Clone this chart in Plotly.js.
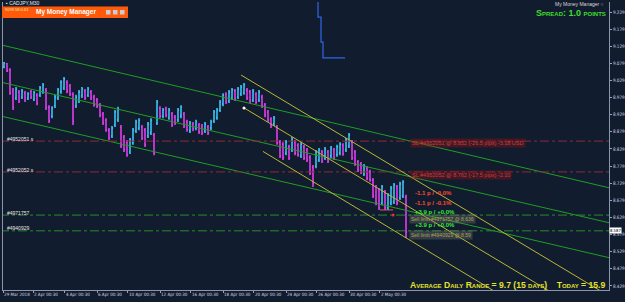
<!DOCTYPE html>
<html><head><meta charset="utf-8">
<script src="https://cdn.plot.ly/plotly-3.0.1.min.js"></script>
<style>html,body{margin:0;padding:0;background:#121c2f;overflow:hidden}#chart{width:625px;height:302px}</style>
</head><body><div id="chart"></div>
<script>
// CADJPY M30 bars (price values)
const openP = [9.068,9.078,9.060,9.000,8.978,8.995,8.980,8.992,8.977,8.996,
8.974,8.987,8.986,8.996,9.001,8.951,8.925,8.955,8.978,8.996,
9.007,9.024,9.013,8.989,8.955,8.969,8.984,8.998,8.986,8.995,
8.981,8.972,8.957,8.931,8.913,8.884,8.867,8.899,8.914,8.893,
8.864,8.849,8.820,8.847,8.882,8.890,8.893,8.884,8.867,8.876,
8.870,8.905,8.948,8.925,8.946,8.920,8.931,8.922,8.914,8.925,
8.931,8.908,8.882,8.902,8.890,8.899,8.896,8.882,8.893,8.890,
8.911,8.920,8.943,8.960,8.989,8.969,8.978,8.998,8.981,8.990,
8.993,9.001,8.995,8.972,8.989,8.972,8.981,8.957,8.937,8.916,
8.902,8.893,8.849,8.843,8.817,8.835,8.826,8.849,8.840,8.809,
8.835,8.826,8.805,8.776,8.779,8.797,8.820,8.803,8.820,8.809,
8.826,8.812,8.817,8.840,8.826,8.838,8.849,8.820,8.791,8.785,
8.756,8.773,8.762,8.738,8.718,8.709,8.671,8.703,8.657,8.671,
8.674,8.718,8.686,8.692,8.689];
const highP = [9.083,9.080,9.065,9.007,9.010,9.001,9.004,8.998,8.995,9.001,
8.998,8.992,9.013,9.022,9.007,8.957,8.954,8.987,9.007,9.030,
9.039,9.030,9.019,8.995,8.987,9.001,9.010,9.004,9.010,9.001,
8.987,8.978,8.963,8.937,8.919,8.890,8.896,8.943,8.952,8.899,
8.870,8.855,8.861,8.890,8.914,8.919,8.899,8.890,8.908,8.919,
8.876,8.972,8.954,8.949,8.952,8.949,8.937,8.928,8.949,8.957,
8.937,8.914,8.911,8.908,8.914,8.905,8.902,8.908,8.899,8.914,
8.943,8.949,8.972,8.992,8.995,9.001,9.007,9.004,9.010,9.016,
9.022,9.007,9.001,9.004,8.995,9.001,8.987,8.963,8.943,8.922,
8.925,8.899,8.855,8.849,8.855,8.841,8.864,8.855,8.846,8.849,
8.841,8.832,8.811,8.782,8.826,8.832,8.826,8.835,8.826,8.838,
8.832,8.841,8.849,8.846,8.861,8.876,8.855,8.826,8.797,8.791,
8.785,8.779,8.768,8.744,8.724,8.715,8.724,8.709,8.700,8.721,
8.730,8.724,8.733,8.738,8.695];
const lowP = [9.065,9.054,8.987,8.943,8.972,8.963,8.975,8.966,8.972,8.975,
8.969,8.957,8.981,8.990,8.943,8.905,8.919,8.949,8.972,8.990,
9.001,8.992,8.984,8.899,8.949,8.963,8.978,8.972,8.981,8.972,
8.952,8.949,8.922,8.899,8.879,8.855,8.861,8.893,8.908,8.832,
8.820,8.806,8.814,8.841,8.876,8.884,8.855,8.835,8.861,8.870,
8.811,8.899,8.919,8.919,8.922,8.914,8.893,8.899,8.908,8.919,
8.890,8.879,8.876,8.881,8.884,8.873,8.870,8.876,8.870,8.884,
8.905,8.914,8.937,8.954,8.960,8.963,8.972,8.969,8.975,8.984,
8.987,8.972,8.963,8.966,8.960,8.966,8.949,8.922,8.908,8.890,
8.896,8.841,8.803,8.797,8.811,8.797,8.820,8.811,8.806,8.803,
8.797,8.791,8.753,8.718,8.773,8.791,8.788,8.797,8.788,8.803,
8.797,8.806,8.811,8.809,8.820,8.832,8.797,8.779,8.762,8.756,
8.750,8.738,8.733,8.686,8.665,8.651,8.665,8.651,8.651,8.665,
8.668,8.665,8.680,8.686,8.569];
const closeP = [9.080,9.057,8.992,8.950,9.004,8.969,8.998,8.972,8.990,8.980,
8.993,8.962,9.008,9.016,8.950,8.911,8.948,8.981,9.001,9.024,
9.033,8.998,8.990,8.910,8.981,8.995,9.004,8.978,9.004,8.978,
8.958,8.955,8.928,8.905,8.885,8.861,8.890,8.937,8.946,8.838,
8.826,8.812,8.855,8.884,8.908,8.913,8.861,8.841,8.902,8.913,
8.817,8.966,8.925,8.943,8.928,8.943,8.899,8.905,8.943,8.951,
8.896,8.885,8.905,8.887,8.908,8.879,8.876,8.902,8.876,8.908,
8.937,8.943,8.966,8.986,8.966,8.995,9.001,8.975,9.004,9.010,
9.016,8.978,8.969,8.998,8.966,8.995,8.955,8.928,8.914,8.896,
8.919,8.847,8.809,8.803,8.849,8.803,8.858,8.817,8.812,8.843,
8.803,8.797,8.759,8.730,8.820,8.826,8.794,8.829,8.794,8.832,
8.803,8.835,8.843,8.815,8.855,8.870,8.803,8.785,8.768,8.762,
8.779,8.744,8.739,8.692,8.671,8.657,8.718,8.657,8.694,8.715,
8.724,8.671,8.727,8.733,8.587];

const tickLabels = ['29 Mar 2018','2 Apr 00:30','4 Apr 00:30','6 Apr 00:30','10 Apr 00:30','12 Apr 00:30','16 Apr 00:30','18 Apr 00:30','20 Apr 00:30','24 Apr 00:30','26 Apr 00:30','30 Apr 00:30','2 May 00:30'];
const tickBars = [-0.3, 9.67, 20.33, 31, 41.33, 52, 62.33, 73, 83.33, 94, 104.33, 115, 125.33];

// green regression channel
const channelX = [-1, 202];
const channelTop = [9.133, 8.715];
const channelMid = [9.024, 8.613];
const channelLow = [8.925, 8.511];
// yellow channel
const yUpX = [79, 202], yUp = [9.045, 8.398];
const yMidX = [80, 186.7], yMid = [8.949, 8.388];
const yLowX = [86.3, 168.3], yLow = [8.822, 8.388];
// order levels
const slLevels = [8.852, 8.762];
const limitLevels = [8.636, 8.590];
const lastPrice = 8.587;
// blue step line at top
const blueX = [104.67,104.67,105.67,105.67,106.33,106.33,113.67];
const blueY = [9.27,9.214,9.214,9.141,9.141,9.095,9.095];
// stop marker near last bars
const stopX = [125.3, 129.7], stopY = [8.651, 8.651];

const xs = openP.map((_, i) => i);
const X0 = -0.333, X1 = 201.667;
const BG = '#121c2f';

function line(x, y, color, dash, w) {
  return {type:'scatter', mode:'lines', x:x, y:y, hoverinfo:'skip', showlegend:false,
          line:{color:color, width:w||1, dash:dash||'solid'}};
}
const traces = [];
traces.push(line(channelX, channelTop, '#1f9e24'));
traces.push(line(channelX, channelMid, '#1f9e24'));
traces.push(line(channelX, channelLow, '#1f9e24'));
slLevels.forEach(v => traces.push(line([X0-1, X1+1], [v, v], '#8e2b35', 'dashdot')));
limitLevels.forEach(v => traces.push(line([X0-1, X1+1], [v, v], '#2a8a2e', 'dashdot')));
traces.push(line(yUpX, yUp, '#b8b834'));
traces.push(line(yMidX, yMid, '#b8b834'));
traces.push(line(yLowX, yLow, '#b8b834'));
traces.push(line(blueX, blueY, '#2f66e6', 'solid', 1.2));
traces.push(line(stopX, stopY, '#e05a6a'));
traces.push({type:'scatter', mode:'markers', x:[yMidX[0]], y:[yMid[0]], marker:{color:'#ffffff', size:3}, hoverinfo:'skip', showlegend:false});
traces.push({type:'scatter', mode:'markers', x:[stopX[1]], y:[limitLevels[0]], marker:{color:'#e03030', size:3}, hoverinfo:'skip', showlegend:false});
traces.push({type:'ohlc', x:xs, open:openP, high:highP, low:lowP, close:closeP,
  increasing:{line:{color:'#3cc3f5', width:1.6}}, decreasing:{line:{color:'#e23cf0', width:1.6}},
  tickwidth:0.35, hoverinfo:'skip', showlegend:false});

// pixel helpers for text placement only
const L = 3, R = 609, T = 2, B = 290;
const P = px => (px - L) / (R - L);
const Q = py => (B - py) / (B - T);
const FF = 'Liberation Sans, Arial, sans-serif';
const FN = 'Liberation Sans Narrow, DejaVu Sans Condensed, Liberation Sans, sans-serif';
function txt(px, py, text, size, color, anchor, extra) {
  return Object.assign({xref:'paper', yref:'paper', x:P(px), y:Q(py), text:text, showarrow:false,
    xanchor:anchor||'left', yanchor:'middle', font:{family:FF, size:size, color:color}}, extra||{});
}
const nb = '\u00a0';
const annotations = [
  txt(4, 3, '\u25aa CADJPY,M30', 5, '#e8e8e8'),
  txt(66, 12, '<b>My Money Manager</b>', 6.5, '#ffffff', 'center'),
  txt(3, 9.5, '9098 58 0.61', 4, '#ffe8b0'),
  txt(606, 4, 'My Money Manager \u25cb', 5, '#d6d6d6', 'right'),
  txt(608, 12.5, '<b>Spread: 1.0 points</b>', 9, '#3ddf2a', 'right', {font:{family:FF, size:9, color:'#3ddf2a', variant:'small-caps'}}),
  txt(607, 285, '<b>Average Daily Range = 9.7 (15 days)' + nb+nb+nb+nb + 'Today = 15.9</b>', 8.6, '#e3e32c', 'right', {font:{family:FF, size:8.6, color:'#e3e32c', variant:'small-caps'}}),
  txt(5, 139, '#4952051 s', 5, '#e6e6e6'),
  txt(5, 169.5, '#4952052 s', 5, '#e6e6e6'),
  txt(5, 212.5, '#4971757', 5, '#e6e6e6'),
  txt(5, 227.5, '#4940929', 5, '#e6e6e6'),
  txt(410, 143, 'SL #4952051 @ 8.852 (-26.5 pips) -3.18 USD', 5.5, '#d33a3a', 'left', {bgcolor:'rgba(150,20,20,0.35)'}),
  txt(410, 175, 'SL #4952052 @ 8.762 (-17.5 pips) -2.10', 5.5, '#d33a3a', 'left', {bgcolor:'rgba(150,20,20,0.35)'}),
  txt(413, 193, '<b>-1.1 p / -0.0%</b>', 6, '#ff4a2a'),
  txt(413, 203, '<b>-1.1 p / -0.1%</b>', 6, '#ff4a2a'),
  txt(413, 212, '<b>+3.9 p / +0.0%</b>', 6, '#38e838'),
  txt(409, 218.5, 'Sell limit #4971757 @ 8.636', 5, '#a8a84a', 'left', {bgcolor:'rgba(120,120,120,0.35)'}),
  txt(413, 225, '<b>+3.9 p / +0.0%</b>', 6, '#38e838'),
  txt(409, 235, 'Sell limit #4940929 @ 8.59', 5, '#a8a84a', 'left', {bgcolor:'rgba(120,120,120,0.35)'}),
  {xref:'paper', yref:'y', x:1, y:lastPrice, yshift:1.5, text:lastPrice.toFixed(3), showarrow:false, xanchor:'left', yanchor:'middle',
   bgcolor:'#ffffff', borderpad:0, font:{family:FN, size:4.2, color:'#000000'}}
];

const shapes = [
  {type:'rect', xref:'paper', yref:'paper', x0:P(2), x1:P(128), y0:Q(18), y1:Q(6.5), fillcolor:'#ff5a0a', line:{width:0}},
  {type:'rect', xref:'paper', yref:'paper', x0:P(106), x1:P(110.5), y0:Q(14.5), y1:Q(10), fillcolor:'#c9ccd6', line:{width:0}},
  {type:'rect', xref:'paper', yref:'paper', x0:P(113), x1:P(117.5), y0:Q(14.5), y1:Q(10), fillcolor:'#c9ccd6', line:{width:0}},
  {type:'rect', xref:'paper', yref:'paper', x0:P(120), x1:P(124.5), y0:Q(14.5), y1:Q(10), fillcolor:'#c9ccd6', line:{width:0}}
];

const layout = {
  width:625, height:302, margin:{l:3, r:16, t:2, b:12, pad:0},
  paper_bgcolor:BG, plot_bgcolor:BG, showlegend:false,
  xaxis:{range:[X0, X1], tickmode:'array', tickvals:tickBars, ticktext:tickLabels,
    ticklabelposition:'outside right', tickangle:0, ticks:'outside', ticklen:2, tickcolor:'#9aa3b4',
    showline:true, linecolor:'#8d96a8', linewidth:1, showgrid:false, zeroline:false,
    rangeslider:{visible:false}, fixedrange:true,
    tickfont:{family:FN, size:4.5, color:'#d4d8e0'}},
  yaxis:{side:'right', range:[8.4172, 9.2582], tick0:8.429, dtick:0.05, tickformat:'.3f',
    ticks:'outside', ticklen:2, tickcolor:'#9aa3b4', showline:true, mirror:true,
    linecolor:'#8d96a8', linewidth:1, showgrid:false, zeroline:false, fixedrange:true,
    tickfont:{family:FN, size:4.6, color:'#d4d8e0'}},
  annotations:annotations, shapes:shapes
};
Plotly.newPlot('chart', traces, layout, {displayModeBar:false, staticPlot:true});
</script>
</body></html>
